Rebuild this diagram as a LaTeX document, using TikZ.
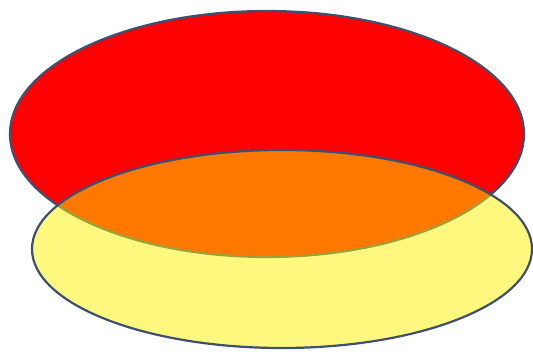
\documentclass[tikz,border=0pt]{standalone}
\begin{document}
\begin{tikzpicture}[x=1pt,y=-1pt,
  edge/.style={draw=outl,line width=2.2pt}]
\definecolor{outl}{HTML}{3E5070}
\useasboundingbox (0,0) rectangle (533,351);
\fill[white] (0,0) rectangle (533,351);
\draw[edge,fill=red] (267,134) ellipse [x radius=257, y radius=123];
\fill[yellow,fill opacity=0.5] (282,249) ellipse [x radius=250, y radius=99];
\draw[edge] (282,249) ellipse [x radius=250, y radius=99];
\end{tikzpicture}
\end{document}
